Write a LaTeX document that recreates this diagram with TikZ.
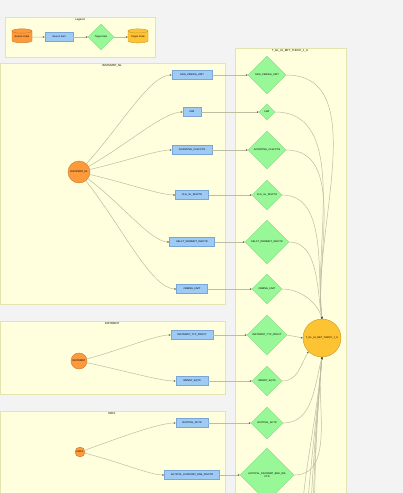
\documentclass[tikz,border=0pt]{standalone}
\usepackage{fontspec}
\setmainfont{Liberation Sans}
\usetikzlibrary{shapes.geometric,arrows.meta}
\definecolor{bgc}{HTML}{F3F3F3}
\definecolor{clfill}{HTML}{FFFFDD}
\definecolor{cldraw}{HTML}{E4E4B0}
\definecolor{rectfill}{HTML}{9ECBF6}
\definecolor{rectdraw}{HTML}{7AA6D6}
\definecolor{diafill}{HTML}{98F898}
\definecolor{diadraw}{HTML}{84D884}
\definecolor{orfill}{HTML}{FD9A3B}
\definecolor{ordraw}{HTML}{C97A2C}
\definecolor{yefill}{HTML}{FEC332}
\definecolor{yedraw}{HTML}{C9982A}
\definecolor{edgec}{HTML}{BDBDA2}
\tikzset{
  x=1pt,y=1pt,
  every node/.style={font=\fontsize{2.5}{2.9}\selectfont, inner sep=0pt},
  cluster/.style={draw=cldraw, fill=clfill, line width=0.5pt},
  ctitle/.style={font=\fontsize{2.8}{3.2}\selectfont, anchor=north},
  srcitem/.style={rectangle, draw=rectdraw, fill=rectfill, line width=0.5pt, minimum height=9pt},
  tgtitem/.style={diamond, draw=diadraw, fill=diafill, line width=0.4pt, aspect=1, align=center},
  srccube/.style={circle, draw=ordraw, fill=orfill, line width=0.4pt},
  tgtcube/.style={circle, draw=yedraw, fill=yefill, line width=0.4pt},
  conn/.style={draw=edgec, line width=0.5pt, -{Stealth[length=2pt,width=1.6pt,color=black!70]}},
  fan/.style={conn, out looseness=1.1, in looseness=0.45},
  cyl/.style={cylinder, shape border rotate=90, aspect=0.3, line width=0.4pt, minimum width=20pt, minimum height=14pt},
}
\begin{document}
\begin{tikzpicture}
\useasboundingbox (0,0) rectangle (403,-493);
\clip (0,0) rectangle (403,-493);
\fill[bgc] (0,0) rectangle (403,-493);

% clusters
\draw[cluster] (5,-17) rectangle (155,-57);
\node[ctitle] (tlegend) at (80,-18) {Legend};
\draw[cluster] (0,-63) rectangle (225,-304);
\node[ctitle] (tnl) at (112,-64) {INSTRMNT\_NL};
\draw[cluster] (0,-321) rectangle (225,-394);
\node[ctitle] (tin) at (112,-322) {INSTRMNT};
\draw[cluster] (0,-411) rectangle (225,-500);
\node[ctitle] (thr) at (112,-412) {HRF1};
\draw[cluster] (235,-48) rectangle (346,-520);
\node[ctitle] (ttg) at (290,-49) {T\_GL\_IU\_BET\_THRCP\_1\_U};

% legend
\node[cyl, draw=ordraw, fill=orfill] (lsc) at (22,-37) {Source Cube};
\node[srcitem, minimum width=28pt] (lsi) at (59,-37) {Source Item};
\node[tgtitem, minimum width=26pt, minimum height=26pt] (lti) at (101,-37) {Target Item};
\node[cyl, draw=yedraw, fill=yefill] (ltc) at (138,-37) {Target Cube};
\draw[conn] (lsc) -- (lsi);
\draw[conn] (lsi) -- (lti);
\draw[conn] (lti) -- (ltc);

% source cubes
\node[srccube, minimum size=22pt] (cnl) at (79,-172) {INSTRMNT\_NL};
\node[srccube, minimum size=16pt] (cin) at (79,-361) {INSTRMNT};
\node[srccube, minimum size=10pt] (chr) at (80,-452) {HRF1};

% target cube
\node[tgtcube, minimum size=38pt] (tgt) at (322,-338) {T\_GL\_IU\_BET\_THRCP\_1\_U};

% source items
\node[srcitem, minimum width=40pt] (s1) at (192,-75) {GDG\_CEBING\_UNIT};
\node[srcitem, minimum width=18pt] (s2) at (192,-112) {HWI};
\node[srcitem, minimum width=40pt] (s3) at (192,-150) {ACONTING\_CLSFCTN};
\node[srcitem, minimum width=33pt] (s4) at (192,-195) {VLG\_SL\_INSCTR};
\node[srcitem, minimum width=45pt] (s5) at (192,-242) {SELCT\_WRNMNT\_INSCTR};
\node[srcitem, minimum width=31pt] (s6) at (192,-289) {CBBING\_UNIT};
\node[srcitem, minimum width=42pt] (s7) at (192,-335) {INSTRMNT\_TYP\_PRDCT};
\node[srcitem, minimum width=32pt] (s8) at (192,-381) {WRNNT\_EQTS};
\node[srcitem, minimum width=32pt] (s9) at (192,-423) {WHTTNG\_SCTR};
\node[srcitem, minimum width=55pt] (s10) at (192,-475) {AUTSTSL\_DSCRNMT\_BNK\_INSCTR};

% target items
\node[tgtitem, minimum width=38pt, minimum height=38pt] (d1) at (267,-75) {GDG\_CEBING\_UNIT};
\node[tgtitem, minimum width=16pt, minimum height=16pt] (d2) at (267,-112) {HWI};
\node[tgtitem, minimum width=38pt, minimum height=38pt] (d3) at (267,-150) {ACONTING\_CLSFCTN};
\node[tgtitem, minimum width=30pt, minimum height=30pt] (d4) at (267,-195) {VLG\_SL\_INSCTR};
\node[tgtitem, minimum width=44pt, minimum height=44pt] (d5) at (267,-242) {SELCT\_WRNMNT\_INSCTR};
\node[tgtitem, minimum width=30pt, minimum height=30pt] (d6) at (267,-289) {CBBING\_UNIT};
\node[tgtitem, minimum width=40pt, minimum height=40pt] (d7) at (267,-335) {INSTRMNT\_TYP\_PRDCT};
\node[tgtitem, minimum width=30pt, minimum height=30pt] (d8) at (267,-381) {WRNNT\_EQTS};
\node[tgtitem, minimum width=32pt, minimum height=32pt] (d9) at (267,-423) {WHTTNG\_SCTR};
\node[tgtitem, minimum width=54pt, minimum height=54pt] (d10) at (267,-475) {AUTSTSL\_DSCRNMT\_BNK\_INS\\CTR};

% cube -> source items
\draw[fan] (cnl) to[out=48,in=180] (s1.west);
\draw[fan] (cnl) to[out=30,in=180] (s2.west);
\draw[fan] (cnl) to[out=13,in=180] (s3.west);
\draw[fan] (cnl) to[out=-13,in=180] (s4.west);
\draw[fan] (cnl) to[out=-37,in=180] (s5.west);
\draw[fan] (cnl) to[out=-52,in=180] (s6.west);
\draw[fan] (cin) to[out=15,in=180] (s7.west);
\draw[fan] (cin) to[out=-12,in=180] (s8.west);
\draw[fan] (chr) to[out=20,in=180] (s9.west);
\draw[fan] (chr) to[out=-14,in=180] (s10.west);

% source items -> target items
\foreach \i in {1,...,10} { \draw[conn] (s\i.east) -- (d\i.west); }

% target items -> target cube
\draw[conn] (d1.east) to[out=0,in=97,looseness=0.9] (tgt.north);
\draw[conn] (d2.east) to[out=0,in=97,looseness=0.9] (tgt.north);
\draw[conn] (d3.east) to[out=0,in=97,looseness=0.9] (tgt.north);
\draw[conn] (d4.east) to[out=0,in=97,looseness=0.9] (tgt.north);
\draw[conn] (d5.east) to[out=0,in=100,looseness=0.9] (tgt.north);
\draw[conn] (d6.east) to[out=0,in=105,looseness=0.9] (tgt.north);
\draw[conn] (d7.east) -- (tgt.west);
\draw[conn] (d8.east) to[out=0,in=-120] (tgt.south west);
\draw[conn] (d9.east) to[out=0,in=-105] (tgt.south);
\draw[conn] (d10.east) to[out=0,in=-100,looseness=0.9] (tgt.south);

% edges from target items below the visible area
\coordinate (o1) at (300,-560);
\coordinate (o2) at (304,-600);
\coordinate (o3) at (308,-640);
\coordinate (o4) at (312,-680);
\coordinate (o5) at (316,-720);
\foreach \k in {1,...,5} { \draw[conn] (o\k) to[out=90,in=-95] (tgt.south); }
\end{tikzpicture}
\end{document}
